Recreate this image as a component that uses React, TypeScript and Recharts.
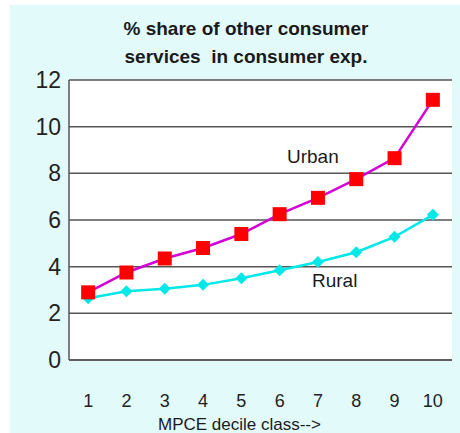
import React from 'react';
import { LineChart, Line, XAxis, YAxis, CartesianGrid } from 'recharts';

const deciles = [1, 2, 3, 4, 5, 6, 7, 8, 9, 10];
const urban = [2.9, 3.75, 4.35, 4.8, 5.4, 6.25, 6.95, 7.75, 8.65, 11.15];
const rural = [2.65, 2.95, 3.05, 3.22, 3.5, 3.85, 4.2, 4.62, 5.28, 6.22];
const yTicks = [0, 2, 4, 6, 8, 10, 12];

const data = deciles.map((d, i) => ({ decile: d, urban: urban[i], rural: rural[i] }));

const font = 'Arial, "Liberation Sans", sans-serif';

const SquareDot = (props: any) => {
  const { cx, cy } = props;
  if (cx == null || cy == null) return null;
  return <rect x={cx - 7} y={cy - 7} width={14} height={14} fill="#ff0000" />;
};

const DiamondDot = (props: any) => {
  const { cx, cy } = props;
  if (cx == null || cy == null) return null;
  const r = 6;
  return (
    <polygon
      points={`${cx},${cy - r} ${cx + r},${cy} ${cx},${cy + r} ${cx - r},${cy}`}
      fill="#00e8e8"
    />
  );
};

export default function App() {
  return (
    <div
      style={{
        position: 'absolute',
        left: 0,
        top: 0,
        width: 460,
        height: 433,
        background: '#ffffff',
        fontFamily: font,
        overflow: 'hidden',
      }}
    >
      <div
        style={{
          position: 'absolute',
          left: 10,
          top: 5,
          width: 450,
          height: 428,
          background: '#e2fafa',
        }}
      >
        <LineChart
          width={450}
          height={428}
          data={data}
          margin={{ top: 75, right: 8, bottom: 0, left: 0 }}
        >
          <CartesianGrid
            vertical={false}
            stroke="#555555"
            strokeWidth={1.5}
            fill="#ffffff"
            fillOpacity={1}
          />
          <XAxis
            dataKey="decile"
            type="number"
            domain={[0.5, 10.5]}
            ticks={deciles}
            tickLine={false}
            axisLine={{ stroke: '#555555', strokeWidth: 1.5 }}
            tick={{ fontSize: 18, fill: '#222', fontFamily: font }}
            tickMargin={28}
            height={73}
          />
          <YAxis
            domain={[0, 12]}
            ticks={yTicks}
            tickLine={false}
            axisLine={{ stroke: '#555555', strokeWidth: 1.5 }}
            tick={{ fontSize: 23, fill: '#222', fontFamily: font }}
            width={59}
            interval={0}
          />
          <YAxis
            yAxisId="r"
            orientation="right"
            domain={[0, 12]}
            tick={false}
            tickLine={false}
            axisLine={{ stroke: '#555555', strokeWidth: 1.5 }}
            width={0}
          />
          <Line
            dataKey="rural"
            stroke="#00e8e8"
            strokeWidth={2.5}
            dot={<DiamondDot />}
            isAnimationActive={false}
          />
          <Line
            dataKey="urban"
            stroke="#d400d4"
            strokeWidth={2.5}
            dot={<SquareDot />}
            isAnimationActive={false}
          />
        </LineChart>
      </div>
      <div
        style={{
          position: 'absolute',
          left: 0,
          width: 492,
          top: 15,
          textAlign: 'center',
          fontSize: 19,
          fontWeight: 'bold',
          lineHeight: '28px',
          color: '#1a1a1a',
          whiteSpace: 'nowrap',
        }}
      >
        % share of other consumer
        <br />
        services&nbsp; in consumer exp.
      </div>
      <div style={{ position: 'absolute', left: 287, top: 147, fontSize: 19, lineHeight: 1, color: '#1a1a1a' }}>Urban</div>
      <div style={{ position: 'absolute', left: 312, top: 271, fontSize: 19, lineHeight: 1, color: '#1a1a1a' }}>Rural</div>
      <div
        style={{
          position: 'absolute',
          left: 158,
          top: 416,
          fontSize: 17,
          lineHeight: 1,
          color: '#1a1a1a',
          whiteSpace: 'nowrap',
        }}
      >
        MPCE decile class--&gt;
      </div>
    </div>
  );
}
